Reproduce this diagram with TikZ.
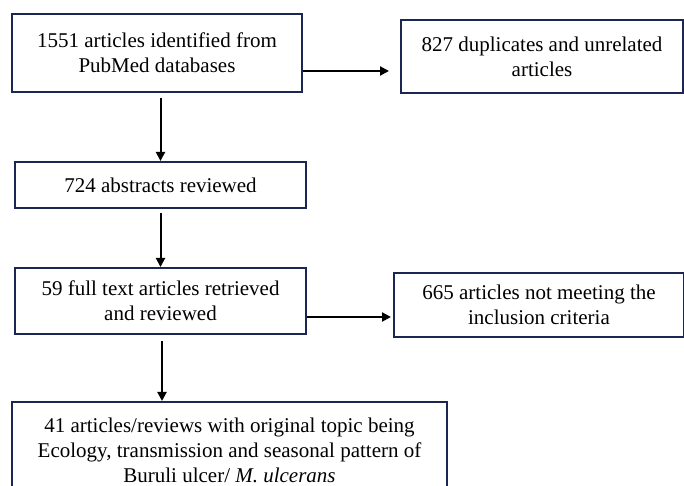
\documentclass[tikz,border=0pt]{standalone}
\usepackage{fontspec}
\setmainfont{Liberation Serif}
\usepackage{tikz}
\usetikzlibrary{positioning,arrows.meta,calc}
\definecolor{dNavy}{RGB}{28,38,82}
\tikzset{
  stage/.style={rectangle, draw=dNavy, line width=2pt, fill=white,
                inner sep=0pt, align=center, font=\fontsize{21}{25}\selectfont},
  flow/.style={-{Triangle[length=9pt,width=9pt]}, draw=black, line width=2pt},
}

\begin{document}
\begin{tikzpicture}[x=1pt, y=1pt]
  \useasboundingbox (0,0) rectangle (684,486);

  \node[stage, minimum width=290pt, minimum height=78pt] (found) at (157,433)
    {1551 articles identified from\\PubMed databases};
  \node[stage, minimum width=282pt, minimum height=73pt] (dupl) at (542,429.5)
    {827 duplicates and unrelated\\articles};
  \node[stage, minimum width=291pt, minimum height=46pt] (abstr) at (160.5,301)
    {724 abstracts reviewed};
  \node[stage, minimum width=291pt, minimum height=66pt] (full) at (160.5,185)
    {59 full text articles retrieved\\and reviewed};
  \node[stage, minimum width=290pt, minimum height=64pt] (excl) at (539,181)
    {665 articles not meeting the\\inclusion criteria};
  \node[stage, minimum width=435pt, minimum height=96pt] (incl) at (229.5,36)
    {41 articles/reviews with original topic being\\
     Ecology, transmission and seasonal pattern of\\
     Buruli ulcer/ \textit{M. ulcerans}};

  % removed: duplicates
  \draw[flow, shorten >=11pt] ([yshift=-18pt]found.east) -- ([yshift=-18pt]found.east -| dupl.west);
  % screening chain
  \draw[flow, shorten <=5pt] (abstr.north |- found.south) -- (abstr.north);
  \draw[flow, shorten <=4pt] (abstr) -- (full);
  % removed: not meeting criteria
  \draw[flow, shorten >=2pt] ([yshift=-16pt]full.east) -- ([yshift=-16pt]full.east -| excl.west);
  \draw[flow, shorten <=6pt] ([xshift=1.5pt]full.south) -- ([xshift=1.5pt]full.south |- incl.north);
\end{tikzpicture}
\end{document}
